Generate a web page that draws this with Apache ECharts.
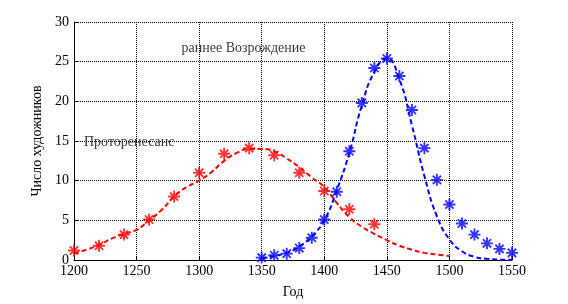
<!DOCTYPE html>
<html>
<head>
<meta charset="utf-8">
<script src="https://cdn.jsdelivr.net/npm/echarts@6/dist/echarts.min.js"></script>
<style>
  html, body { margin: 0; padding: 0; background: #fff; }
  #main { width: 568px; height: 304px; }
</style>
</head>
<body>
<div id="main"></div>
<script>
// точки (звёздочки)
var redYears = [1200, 1220, 1240, 1260, 1280, 1300, 1320, 1340, 1360, 1380, 1400, 1420, 1440];
var redCounts = [1.2, 1.8, 3.2, 5.1, 8.0, 11.0, 13.4, 14.1, 13.2, 11.0, 8.7, 6.4, 4.5];

var blueYears = [1350, 1360, 1370, 1380, 1390, 1400, 1410, 1420, 1430, 1440, 1450,
                 1460, 1470, 1480, 1490, 1500, 1510, 1520, 1530, 1540, 1550];
var blueCounts = [0.3, 0.6, 0.8, 1.5, 2.8, 5.1, 8.6, 13.7, 19.8, 24.2, 25.4,
                  23.2, 18.9, 14.1, 10.1, 7.0, 4.6, 3.2, 2.1, 1.4, 0.9];

// аппроксимирующие кривые (пунктир)
var redFitYears = [1200, 1210, 1220, 1230, 1240, 1250, 1260, 1270, 1280, 1290, 1300,
                   1310, 1320, 1330, 1340, 1350, 1360, 1370, 1380, 1390, 1400,
                   1410, 1420, 1430, 1440, 1450, 1460, 1470, 1480, 1490, 1500];
var redFit = [0.8, 1.3, 1.9, 2.7, 3.3, 3.8, 5.0, 6.3, 8.0, 9.2, 10.0,
              11.1, 12.5, 13.5, 14.0, 14.0, 13.7, 12.8, 11.7, 10.4, 9.2,
              7.2, 5.4, 4.2, 3.3, 2.5, 1.8, 1.3, 0.9, 0.7, 0.5];

var blueFitYears = [1350, 1360, 1370, 1380, 1390, 1400, 1410, 1420, 1430, 1440, 1450,
                    1460, 1470, 1480, 1490, 1500, 1510, 1520, 1530, 1540, 1550];
var blueFit = [0.2, 0.5, 0.9, 1.7, 3.0, 5.0, 8.8, 13.5, 19.5, 23.7, 25.4,
               22.8, 17.0, 10.6, 5.5, 2.6, 1.1, 0.4, 0.15, 0.05, 0.02];

var labels = [
  { name: 'раннее Возрождение', value: [1286, 26.7] },
  { name: 'Протоpенесанс', value: [1208, 14.8] }
];

function pairs(xs, ys) {
  return xs.map(function (x, i) { return [x, ys[i]]; });
}

var asterisk = 'path://M0,42H100V58H0Z M42,0H58V100H42Z M10,21L21,10L90,79L79,90Z M79,10L90,21L21,90L10,79Z';
var font = 'Liberation Serif';

var myChart = echarts.init(document.getElementById('main'));
myChart.setOption({
  animation: false,
  backgroundColor: '#fff',
  textStyle: { fontFamily: font },
  grid: { left: 74, right: 56, top: 22, bottom: 40 },
  xAxis: {
    type: 'value', min: 1200, max: 1550, interval: 50,
    name: 'Год', nameLocation: 'middle', nameGap: 25,
    nameTextStyle: { color: '#000', fontSize: 14, fontFamily: font },
    axisLine: { lineStyle: { color: '#000', width: 1 } },
    axisTick: { inside: true, length: 4, lineStyle: { color: '#000' } },
    axisLabel: {
      color: '#000', fontSize: 14, margin: 4, fontFamily: font,
      formatter: function (v) { return String(v); }
    },
    splitLine: { show: true, lineStyle: { color: '#000', type: [1, 1], width: 1 } }
  },
  yAxis: {
    type: 'value', min: 0, max: 30, interval: 5,
    name: 'Число художников', nameLocation: 'middle', nameGap: 26,
    nameTextStyle: { color: '#000', fontSize: 14, fontFamily: font },
    axisLine: { show: true, lineStyle: { color: '#000', width: 1 } },
    axisTick: { show: true, inside: true, length: 4, lineStyle: { color: '#000' } },
    axisLabel: { color: '#000', fontSize: 14, margin: 5, fontFamily: font },
    splitLine: { show: true, lineStyle: { color: '#000', type: [1, 1], width: 1 } }
  },
  series: [
    {
      type: 'line', data: pairs(redFitYears, redFit), smooth: true, showSymbol: false,
      lineStyle: { color: '#ff0000', width: 2, type: [5, 3] }, z: 2
    },
    {
      type: 'line', data: pairs(blueFitYears, blueFit), smooth: true, showSymbol: false,
      lineStyle: { color: '#0000ff', width: 2, type: [5, 3] }, z: 2
    },
    {
      type: 'scatter', data: pairs(redYears, redCounts), symbol: asterisk, symbolSize: 12,
      itemStyle: { color: '#ff0000' }, z: 3
    },
    {
      type: 'scatter', data: pairs(blueYears, blueCounts), symbol: asterisk, symbolSize: 12,
      itemStyle: { color: '#0000ff' }, z: 3
    },
    {
      type: 'scatter', data: labels, symbolSize: 0, silent: true, z: 4,
      label: {
        show: true, position: 'right', distance: 0,
        formatter: function (p) { return p.name; },
        color: '#000', fontSize: 14, fontFamily: font
      }
    }
  ]
});
</script>
</body>
</html>
